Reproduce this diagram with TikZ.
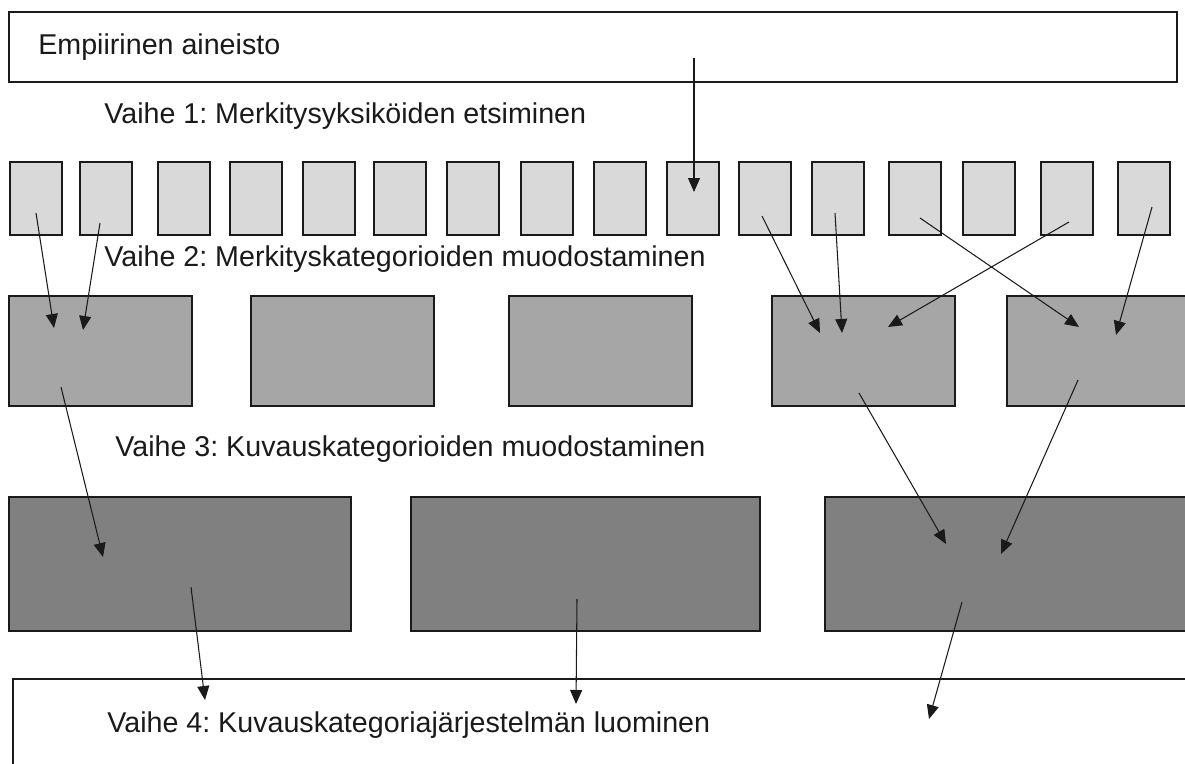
\documentclass[tikz,border=0pt]{standalone}
\usepackage{fontspec}
\setmainfont{Liberation Sans}
\usepackage{tikz}
\usepackage{xcolor}
\usetikzlibrary{arrows.meta,calc,positioning}
\definecolor{unitgray}{HTML}{D9D9D9}
\definecolor{catgray}{HTML}{A6A6A6}
\definecolor{descgray}{HTML}{808080}
\definecolor{ink}{HTML}{1A1A1A}
\frenchspacing
\tikzset{%
	frame/.style    = {draw=ink, rectangle, line width=0.8pt, fill=white},
	unit/.style     = {draw=ink, rectangle, line width=0.8pt, fill=unitgray, minimum width=1.04cm, minimum height=1.46cm},
	category/.style = {draw=ink, rectangle, line width=0.8pt, fill=catgray, minimum width=3.66cm, minimum height=2.2cm},
	desc/.style     = {draw=ink, rectangle, line width=0.8pt, fill=descgray, minimum height=2.68cm},
	phase/.style    = {anchor=base west, inner sep=0pt, text=ink, font=\fontsize{16.3}{19}\selectfont},
	arrow/.style    = {ink, line width=0.6pt, -{Triangle[length=0.28cm,width=0.24cm]}},
}

\begin{document}
\begin{tikzpicture}[x=0.02cm,y=-0.02cm]
		\useasboundingbox (0,0) rectangle (1185,763);
		\clip (0,0) rectangle (1185,763);
		
		% aineisto ja vaiheiden otsikot
		\node[frame, minimum width=23.36cm, minimum height=1.4cm] (data) at (593,47) {};
		\node[frame, minimum width=23.8cm, minimum height=2cm] (system) at (608,729) {};
		\node[phase] (t0) at (38,55) {Empiirinen aineisto};
		\node[phase] (t1) at (104,124) {Vaihe 1: Merkitysyksiköiden etsiminen};
		\node[phase] (t2) at (104,267) {Vaihe 2: Merkityskategorioiden muodostaminen};
		\node[phase] (t3) at (115,456) {Vaihe 3: Kuvauskategorioiden muodostaminen};
		\node[phase] (t4) at (107,732) {Vaihe 4: Kuvauskategoriajärjestelmän luominen};
		
		% merkitysyksiköt
		\foreach \x [count=\i] in {36,106,184,256,329,400,473,547,620,693,765,838,915,989,1067,1144}
			\node[unit] (u\i) at (\x,198.5) {};
		
		% merkityskategoriat
		\foreach \x [count=\i] in {100.5,342.5,600.5,863.5,1098.5}
			\node[category] (m\i) at (\x,351) {};
		
		% kuvauskategoriat
		\node[desc, minimum width=6.84cm] (d1) at (180,564) {};
		\node[desc, minimum width=6.98cm] (d2) at (585.5,564) {};
		\node[desc, minimum width=7.4cm] (d3) at (1010,564) {};
		
		\draw[arrow] ($(data)+(101,11)$) -- ($(u10)+(1,-6.5)$);
		
		\draw[arrow] ($(u1)+(0,14.5)$) -- ($(m1)+(-46.5,-23)$);
		\draw[arrow] ($(u2)+(-6,24.5)$) -- ($(m1)+(-17.5,-21)$);
		\draw[arrow] ($(u11)+(-3,17.5)$) -- ($(m4)+(-43.5,-18)$);
		\draw[arrow] ($(u12)+(-3,14.5)$) -- ($(m4)+(-21.5,-18)$);
		\draw[arrow] ($(u15)+(2,23.5)$) -- ($(m4)+(24.5,-24)$);
		\draw[arrow] ($(u13)+(5,19.5)$) -- ($(m5)+(-19.5,-24)$);
		\draw[arrow] ($(u16)+(8,8.5)$) -- ($(m5)+(17.5,-16)$);
		
		\draw[arrow] ($(m1)+(-39.5,36)$) -- ($(d1)+(-77,-7)$);
		\draw[arrow] ($(m4)+(-4.5,42)$) -- ($(d3)+(-64,-20)$);
		\draw[arrow] ($(m5)+(-20.5,29)$) -- ($(d3)+(-9,-10)$);
		
		\draw[arrow] ($(d1)+(11,23)$) -- ($(system)+(-403,-29)$);
		\draw[arrow] ($(d2)+(-8.5,35)$) -- ($(system)+(-32,-25)$);
		\draw[arrow] ($(d3)+(-48,38)$) -- ($(system)+(321,-10)$);
		\end{tikzpicture}
\end{document}
